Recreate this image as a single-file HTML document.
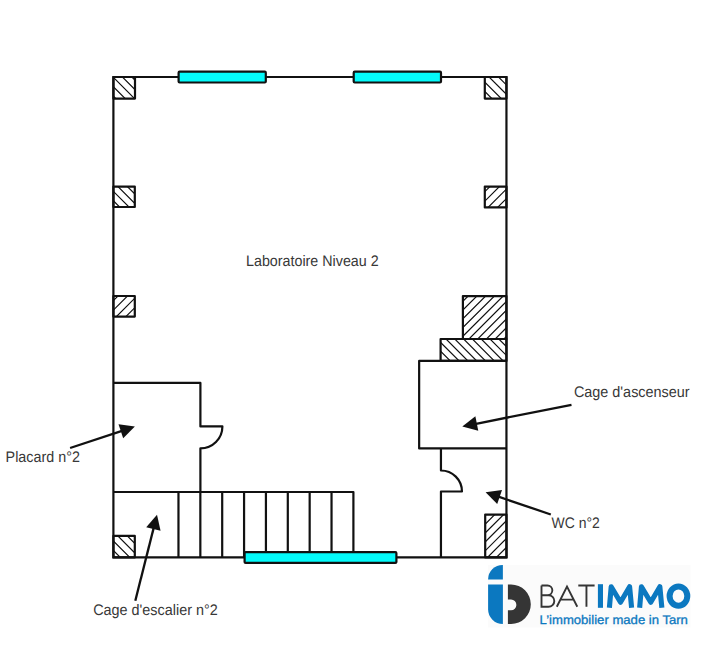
<!DOCTYPE html>
<html><head><meta charset="utf-8"><style>
html,body{margin:0;padding:0;background:#fff;}
svg{display:block;}
</style></head><body>
<svg width="711" height="647" viewBox="0 0 711 647">

<rect x="488" y="565" width="202.5" height="62.5" fill="#fbfbfb"/>
<path d="M502.9 564.9V579.5H488.1A14.6 14.6 0 0 1 502.9 564.9Z" fill="#0b78c0"/>
<path d="M488.1 584.6H502.9V624H502.9A14.8 14.8 0 0 1 488.1 609.2Z" fill="#0b78c0"/>
<path d="M507.9 584.6H511.1A19.7 19.7 0 0 1 511.1 624H507.9V610.3H511A5.4 5.4 0 0 0 511 599.5H507.9Z" fill="#353535"/>
<path d="M541.5 585.5V606.8H548.5A5.8 5.8 0 0 0 548.5 595.2H541.5M541.5 595.2H547.5A4.85 4.85 0 0 0 547.5 585.5H541.5" fill="none" stroke="#353535" stroke-width="1.9"/>
<path d="M556.8 606.8L567 586.6L577.3 606.8M560.6 599.6H573.4" fill="none" stroke="#353535" stroke-width="1.9"/>
<path d="M578.3 585.5H594.6M586.45 585.5V606.8" fill="none" stroke="#353535" stroke-width="1.9"/>
<rect x="597.9" y="584.2" width="5.1" height="23.6" fill="#0b78c0"/>
<path d="M609.4 607.8L611.2 586.8L620.5 602.2L629.6 586.8L631.6 607.8M639.65 607.8L641.45 586.8L650.75 602.2L659.85 586.8L661.85 607.8" fill="none" stroke="#0b78c0" stroke-width="5.1" stroke-linejoin="round"/>
<ellipse cx="678.45" cy="596.05" rx="8.85" ry="9.65" fill="none" stroke="#0b78c0" stroke-width="6"/>
<text x="539.6" y="624.0" fill="#0b78c0" stroke="#0b78c0" stroke-width="0.3" font-family="Liberation Sans" font-size="12.4" text-rendering="geometricPrecision" textLength="148.3" lengthAdjust="spacingAndGlyphs">L’immobilier made in Tarn</text>

<path d="M113.4 77.0H506.45V557.45H113.4Z" fill="none" stroke="#111" stroke-width="2.2" stroke-linejoin="miter"/>
<clipPath id="c1"><rect x="113.4" y="77.0" width="21.599999999999994" height="21.599999999999994"/></clipPath>
<path clip-path="url(#c1)" d="M79.80 72.00L111.40 103.60M89.20 72.00L120.80 103.60M98.60 72.00L130.20 103.60M108.00 72.00L139.60 103.60M117.40 72.00L149.00 103.60M126.80 72.00L158.40 103.60" stroke="#111" stroke-width="1.2" fill="none"/>
<rect x="113.4" y="77.0" width="21.60" height="21.60" fill="none" stroke="#111" stroke-width="2.2" stroke-linejoin="round"/>
<clipPath id="c2"><rect x="484.8" y="77.0" width="21.649999999999977" height="21.599999999999994"/></clipPath>
<path clip-path="url(#c2)" d="M455.90 72.00L487.50 103.60M465.30 72.00L496.90 103.60M474.70 72.00L506.30 103.60M484.10 72.00L515.70 103.60M493.50 72.00L525.10 103.60" stroke="#111" stroke-width="1.2" fill="none"/>
<rect x="484.8" y="77.0" width="21.65" height="21.60" fill="none" stroke="#111" stroke-width="2.2" stroke-linejoin="round"/>
<clipPath id="c3"><rect x="113.4" y="186.6" width="21.400000000000006" height="20.400000000000006"/></clipPath>
<path clip-path="url(#c3)" d="M84.80 181.60L115.20 212.00M94.20 181.60L124.60 212.00M103.60 181.60L134.00 212.00M113.00 181.60L143.40 212.00M122.40 181.60L152.80 212.00" stroke="#111" stroke-width="1.2" fill="none"/>
<rect x="113.4" y="186.6" width="21.40" height="20.40" fill="none" stroke="#111" stroke-width="2.2" stroke-linejoin="round"/>
<clipPath id="c4"><rect x="113.4" y="296.0" width="21.400000000000006" height="20.600000000000023"/></clipPath>
<path clip-path="url(#c4)" d="M113.50 291.00L82.90 321.60M123.00 291.00L92.40 321.60M132.50 291.00L101.90 321.60M142.00 291.00L111.40 321.60M151.50 291.00L120.90 321.60" stroke="#111" stroke-width="1.2" fill="none"/>
<rect x="113.4" y="296.0" width="21.40" height="20.60" fill="none" stroke="#111" stroke-width="2.2" stroke-linejoin="round"/>
<clipPath id="c5"><rect x="484.8" y="186.6" width="21.69999999999999" height="20.80000000000001"/></clipPath>
<path clip-path="url(#c5)" d="M485.40 181.60L454.60 212.40M494.90 181.60L464.10 212.40M504.40 181.60L473.60 212.40M513.90 181.60L483.10 212.40M523.40 181.60L492.60 212.40" stroke="#111" stroke-width="1.2" fill="none"/>
<rect x="484.8" y="186.6" width="21.70" height="20.80" fill="none" stroke="#111" stroke-width="2.2" stroke-linejoin="round"/>
<clipPath id="c6"><rect x="113.4" y="535.9" width="21.400000000000006" height="21.5"/></clipPath>
<path clip-path="url(#c6)" d="M84.30 530.90L115.80 562.40M93.80 530.90L125.30 562.40M103.30 530.90L134.80 562.40M112.80 530.90L144.30 562.40M122.30 530.90L153.80 562.40" stroke="#111" stroke-width="1.2" fill="none"/>
<rect x="113.4" y="535.9" width="21.40" height="21.50" fill="none" stroke="#111" stroke-width="2.2" stroke-linejoin="round"/>
<clipPath id="c7"><rect x="485.2" y="514.6" width="21.30000000000001" height="42.799999999999955"/></clipPath>
<path clip-path="url(#c7)" d="M481.90 509.60L429.10 562.40M490.80 509.60L438.00 562.40M499.70 509.60L446.90 562.40M508.60 509.60L455.80 562.40M517.50 509.60L464.70 562.40M526.40 509.60L473.60 562.40M535.30 509.60L482.50 562.40M544.20 509.60L491.40 562.40M553.10 509.60L500.30 562.40" stroke="#111" stroke-width="1.2" fill="none"/>
<rect x="485.2" y="514.6" width="21.30" height="42.80" fill="none" stroke="#111" stroke-width="2.2" stroke-linejoin="round"/>
<clipPath id="c8"><rect x="462.9" y="296.1" width="43.55000000000001" height="42.89999999999998"/></clipPath>
<path clip-path="url(#c8)" d="M464.35 291.10L411.45 344.00M473.10 291.10L420.20 344.00M481.85 291.10L428.95 344.00M490.60 291.10L437.70 344.00M499.35 291.10L446.45 344.00M508.10 291.10L455.20 344.00M516.85 291.10L463.95 344.00M525.60 291.10L472.70 344.00M534.35 291.10L481.45 344.00M543.10 291.10L490.20 344.00M551.85 291.10L498.95 344.00" stroke="#111" stroke-width="1.2" fill="none"/>
<rect x="462.9" y="296.1" width="43.55" height="42.90" fill="none" stroke="#111" stroke-width="2.2" stroke-linejoin="round"/>
<clipPath id="c9"><rect x="440.6" y="339.0" width="65.84999999999997" height="21.899999999999977"/></clipPath>
<path clip-path="url(#c9)" d="M405.80 334.00L437.70 365.90M414.60 334.00L446.50 365.90M423.40 334.00L455.30 365.90M432.20 334.00L464.10 365.90M441.00 334.00L472.90 365.90M449.80 334.00L481.70 365.90M458.60 334.00L490.50 365.90M467.40 334.00L499.30 365.90M476.20 334.00L508.10 365.90M485.00 334.00L516.90 365.90M493.80 334.00L525.70 365.90" stroke="#111" stroke-width="1.2" fill="none"/>
<rect x="440.6" y="339.0" width="65.85" height="21.90" fill="none" stroke="#111" stroke-width="2.2" stroke-linejoin="round"/>
<path d="M506.45 360.9H419.15V448.45H506.45" fill="none" stroke="#111" stroke-width="2.2" stroke-linejoin="round"/>
<path d="M440.95 448.45V470.5A21 21 0 0 1 461.95 491.5H440.95V557.45" fill="none" stroke="#111" stroke-width="2.2" stroke-linejoin="round"/>
<path d="M113.4 382.9H200.4V426.4H222.4A22 22 0 0 1 200.4 448.4V492.0" fill="none" stroke="#111" stroke-width="2.2" stroke-linejoin="round"/>
<path d="M113.4 492.0H353.4V557.45M178.47 492.0V557.45M200.34 492.0V557.45M222.20 492.0V557.45M244.07 492.0V557.45M265.93 492.0V557.45M287.80 492.0V557.45M309.67 492.0V557.45M331.53 492.0V557.45" fill="none" stroke="#111" stroke-width="2.2" stroke-linejoin="round"/>
<rect x="178.6" y="71.7" width="87.20" height="10.80" rx="1" fill="#04fafa" stroke="#111" stroke-width="2.2"/>
<rect x="353.7" y="71.7" width="87.30" height="10.80" rx="1" fill="#04fafa" stroke="#111" stroke-width="2.2"/>
<rect x="244.6" y="552.2" width="151.80" height="10.70" rx="1" fill="#04fafa" stroke="#111" stroke-width="2.2"/>
<path d="M70.1 448.0L122.75 430.61" stroke="#111" stroke-width="2.3" fill="none"/>
<path d="M134.9 426.6L123.17 438.27L118.53 424.21Z" fill="#111"/>
<path d="M571.5 404.8L474.85 424.01" stroke="#111" stroke-width="2.3" fill="none"/>
<path d="M462.3 426.5L475.37 416.36L478.26 430.87Z" fill="#111"/>
<path d="M550.8 514.5L497.72 496.43" stroke="#111" stroke-width="2.3" fill="none"/>
<path d="M485.6 492.3L502.00 490.07L497.22 504.08Z" fill="#111"/>
<path d="M135.3 600.8L153.87 527.11" stroke="#111" stroke-width="2.3" fill="none"/>
<path d="M157.0 514.7L160.56 530.86L146.21 527.24Z" fill="#111"/>
<text transform="translate(246.0,265.5) scale(0.934,1)" fill="#383838" font-family="Liberation Sans" font-size="15.3" text-rendering="geometricPrecision">Laboratoire Niveau 2</text>
<text transform="translate(5.6,461.6) scale(0.937,1)" fill="#383838" font-family="Liberation Sans" font-size="15.3" text-rendering="geometricPrecision">Placard n°2</text>
<text transform="translate(573.9,396.6) scale(0.942,1)" fill="#383838" font-family="Liberation Sans" font-size="15.3" text-rendering="geometricPrecision">Cage d'ascenseur</text>
<text transform="translate(551.6,527.5) scale(0.912,1)" fill="#383838" font-family="Liberation Sans" font-size="15.3" text-rendering="geometricPrecision">WC n°2</text>
<text transform="translate(93.2,614.7) scale(0.941,1)" fill="#383838" font-family="Liberation Sans" font-size="15.3" text-rendering="geometricPrecision">Cage d'escalier n°2</text>
</svg>
</body></html>
